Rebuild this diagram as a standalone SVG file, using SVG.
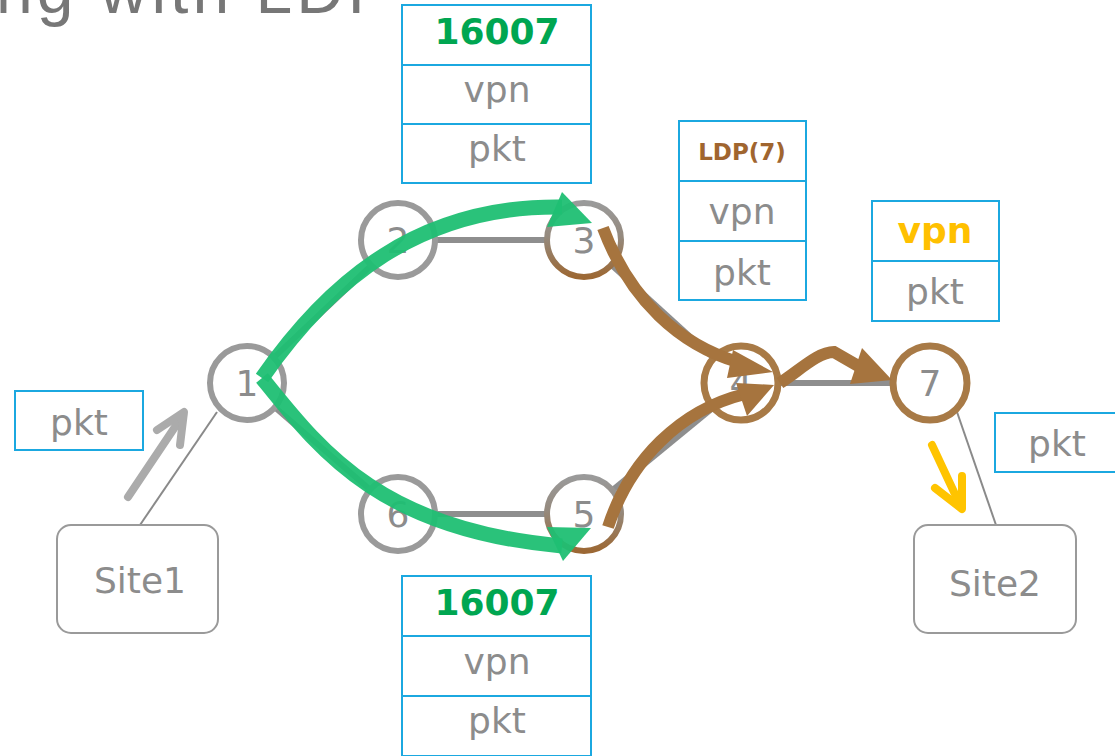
<svg xmlns="http://www.w3.org/2000/svg" width="1115" height="756" viewBox="0 0 1115 756">
<defs>
<linearGradient id="gb" x1="0" y1="0" x2="0" y2="1">
<stop offset="0" stop-color="#9a9a9a"/>
<stop offset="0.45" stop-color="#958a7e"/>
<stop offset="1" stop-color="#9c6834"/>
</linearGradient>
<style>
.t{font-family:"DejaVu Sans","Verdana",sans-serif;fill:#8c8c8c;text-anchor:middle}
.b{font-weight:bold}
.box{fill:#fff;stroke:#1ba8e0;stroke-width:2}
.node{fill:#fff;stroke-width:6}
.g{stroke:#9a9a9a}
.br{stroke:#a87a46;stroke-width:7}
.lk{stroke:#8e8e8e;stroke-width:6;fill:none}
.thin{stroke:#8a8a8a;stroke-width:2;fill:none}
.site{fill:#fff;stroke:#9a9a9a;stroke-width:2}
.grn{fill:none;stroke:#1fbf73;stroke-width:15;opacity:0.95}
.grnh{fill:#1fbf73;opacity:0.95}
.brn{fill:none;stroke:#a6743e;stroke-width:12}
.brnh{fill:#a6743e}
</style>
</defs>
<rect width="1115" height="756" fill="#fff"/>
<text x="-4" y="13" style="font-family:'Liberation Sans',Arial,sans-serif;font-size:66px;letter-spacing:4px;fill:#777">ng with LDP</text>

<g id="connectors">
<line class="lk" x1="274.6" y1="356.9" x2="370.4" y2="266.1"/>
<line class="lk" x1="275.7" y1="407.9" x2="369.3" y2="489.1"/>
<line class="lk" x1="436" y1="240" x2="546" y2="240"/>
<line class="lk" x1="436" y1="514" x2="546" y2="514"/>
<line class="lk" x1="612.1" y1="265.6" x2="712.9" y2="357.4"/>
<line class="lk" x1="613.2" y1="489.6" x2="711.8" y2="408.6"/>
<line class="lk" x1="779" y1="383" x2="892" y2="383"/>
<line class="thin" x1="140" y1="525" x2="217" y2="412"/>
<line class="thin" x1="957" y1="412" x2="996" y2="525"/>
</g>

<g id="n1"><circle class="node g" cx="247" cy="383" r="37"/><text class="t" x="247" y="396" font-size="36">1</text></g>
<g id="n2"><circle class="node g" cx="398" cy="240" r="37"/><text class="t" x="398" y="253" font-size="36">2</text></g>
<g id="n3"><circle class="node" stroke="url(#gb)" cx="584" cy="240" r="37"/><text class="t" x="584" y="253" font-size="36">3</text></g>
<g id="n6"><circle class="node g" cx="398" cy="514" r="37"/><text class="t" x="398" y="527" font-size="36">6</text></g>
<g id="n5"><circle class="node" stroke="url(#gb)" cx="584" cy="514" r="37"/><text class="t" x="584" y="527" font-size="36">5</text></g>
<g id="n4"><circle class="node br" cx="741" cy="383" r="37"/><text class="t" x="741" y="396" font-size="36">4</text></g>
<g id="n7"><circle class="node br" cx="930" cy="383" r="37"/><text class="t" x="930" y="396" font-size="36">7</text></g>

<g id="site1"><rect class="site" x="57" y="525" width="161" height="108" rx="14"/><text class="t" x="140" y="593" font-size="36">Site1</text></g>
<g id="site2"><rect class="site" x="914" y="525" width="162" height="108" rx="14"/><text class="t" x="995" y="596" font-size="36">Site2</text></g>

<g id="flows">
<path class="grn" d="M262 378 C330 280 420 205 562 207"/>
<polygon class="grnh" points="562,192 592,223 547,227"/>
<path class="grn" d="M262 378 C320 450 380 530 562 546"/>
<polygon class="grnh" points="547,527 591,528 563,561"/>
<path class="brn" d="M603 228 C630 300 680 345 738 362"/>
<polygon class="brnh" points="733,350 773,372 727,378"/>
<path class="brn" d="M608 527 C630 460 680 410 745 394"/>
<polygon class="brnh" points="736,383 774,385 747,416"/>
<path class="brn" d="M780 383 C800 370 818 352 834 352 L860 367"/>
<polygon class="brnh" points="862,348 892,380 850,384"/>
<g fill="none" stroke="#ababab" stroke-width="8" stroke-linecap="round" stroke-linejoin="round">
<line x1="128" y1="497" x2="183" y2="415"/>
<polyline points="157,430 184,412 180,445"/>
</g>
<g fill="none" stroke="#ffc400" stroke-width="8" stroke-linecap="round" stroke-linejoin="round">
<line x1="932" y1="445" x2="961" y2="507"/>
<polyline points="935,488 962,509 962,476"/>
</g>
</g>

<g id="pkt-left"><rect class="box" x="15" y="391" width="128" height="59"/><text class="t" x="79" y="435" font-size="36">pkt</text></g>
<g id="pkt-right"><rect class="box" x="995" y="413" width="130" height="59"/><text class="t" x="1057" y="456" font-size="36">pkt</text></g>

<g id="stack-top">
<rect class="box" x="402" y="5" width="189" height="60"/>
<rect class="box" x="402" y="65" width="189" height="59"/>
<rect class="box" x="402" y="124" width="189" height="59"/>
<text class="t b" x="497" y="44" font-size="36" style="fill:#00a651">16007</text>
<text class="t" x="497" y="102" font-size="36">vpn</text>
<text class="t" x="497" y="161" font-size="36">pkt</text>
</g>

<g id="stack-bottom">
<rect class="box" x="402" y="576" width="189" height="60"/>
<rect class="box" x="402" y="636" width="189" height="60"/>
<rect class="box" x="402" y="696" width="189" height="60"/>
<text class="t b" x="497" y="615" font-size="36" style="fill:#00a651">16007</text>
<text class="t" x="497" y="674" font-size="36">vpn</text>
<text class="t" x="497" y="733" font-size="36">pkt</text>
</g>

<g id="stack-ldp">
<rect class="box" x="679" y="121" width="127" height="60"/>
<rect class="box" x="679" y="181" width="127" height="60"/>
<rect class="box" x="679" y="241" width="127" height="59"/>
<text class="t b" x="742" y="160" font-size="23" style="fill:#a0652f">LDP(7)</text>
<text class="t" x="742" y="224" font-size="36">vpn</text>
<text class="t" x="742" y="285" font-size="36">pkt</text>
</g>

<g id="stack-vpn">
<rect class="box" x="872" y="201" width="127" height="60"/>
<rect class="box" x="872" y="261" width="127" height="60"/>
<text class="t b" x="935" y="243" font-size="36" style="fill:#ffc000">vpn</text>
<text class="t" x="935" y="304" font-size="36">pkt</text>
</g>
</svg>
